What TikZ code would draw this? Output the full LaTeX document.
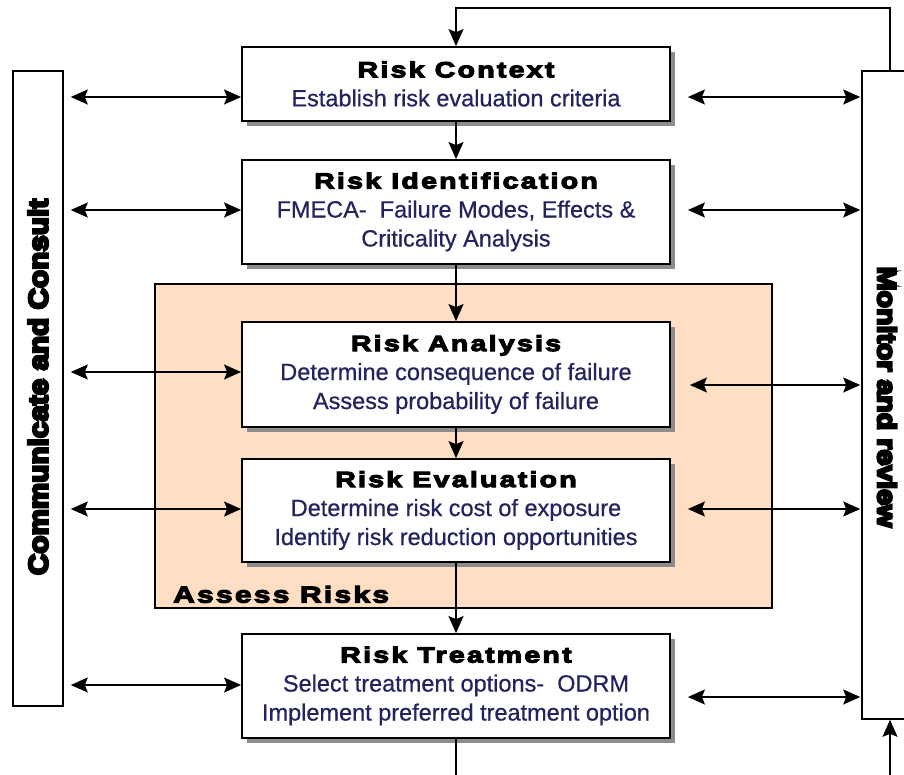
\documentclass[tikz,border=0pt]{standalone}
\usepackage{fontspec}
\usetikzlibrary{arrows.meta,shadows}

% Fonts: a wide heavy face for headings, a very heavy face for side labels
\newfontfamily\titlefont[FakeBold=5,FakeStretch=1.3,LetterSpace=10]{Liberation Sans Bold}
\newfontfamily\heavyfont[FakeBold=9,FakeStretch=1.1]{Liberation Sans Bold}
\newfontfamily\bodyfont[FakeBold=0.6]{Liberation Sans}

\definecolor{bodyblue}{RGB}{35,35,95}
\definecolor{peach}{RGB}{255,223,196}
\definecolor{shadowgray}{RGB}{140,140,140}

\newcommand\boxtitle[1]{{\titlefont\fontsize{22}{29}\selectfont\color{black}#1}}

\tikzset{
  stepbox/.style={draw=black, line width=1.8pt, fill=white,
    minimum width=428pt, align=center, inner sep=0pt,
    font=\bodyfont\fontsize{23.5}{29}\selectfont, text=bodyblue,
    drop shadow={shadow xshift=5pt, shadow yshift=-5pt, fill=shadowgray, opacity=1}},
  sidebox/.style={draw=black, line width=1.6pt, fill=white, inner sep=0pt, minimum width=50pt},
  sidetext/.style={font=\heavyfont\fontsize{27}{30}\selectfont, inner sep=0pt},
  link/.style={line width=1.5pt, -{Stealth[length=17pt,width=15pt,inset=3pt]}},
  plain/.style={line width=1.5pt},
  both/.style={line width=1.5pt, {Stealth[length=17pt,width=15pt,inset=3pt]}-{Stealth[length=17pt,width=15pt,inset=3pt]}},
}

\begin{document}
\begin{tikzpicture}[x=1pt,y=-1pt]
\useasboundingbox (0,0) rectangle (904,775);
\clip (0,0) rectangle (904,775);

% assessment zone
\node[draw=black, line width=1.5pt, fill=peach, inner sep=0pt,
      minimum width=617pt, minimum height=324pt] (assess) at (463.5,446) {};
\node[font=\titlefont\fontsize{23}{26}\selectfont, anchor=south west, inner sep=0pt]
      (assesslabel) at (173,603) {Assess Risks};

% side bars
\node[sidebox, minimum height=635pt] (comm) at (38,388.5) {};
\node[sidetext, rotate=90] (commtext) at (38,387) {Communicate and Consult};
\node[sidebox, minimum height=648pt] (mon) at (887,395) {};
\node[sidetext, rotate=-90, font=\heavyfont\fontsize{26}{30}\selectfont] (montext) at (887,397) {Monitor and review};

% process steps
\node[stepbox, minimum height=74pt] (ctx) at (456,84)
  {\boxtitle{Risk Context}\\Establish risk evaluation criteria};
\node[stepbox, minimum height=104pt] (ident) at (456,212)
  {\boxtitle{Risk Identification}\\FMECA-\ \ Failure Modes, Effects \&\\Criticality Analysis};
\node[stepbox, minimum height=105pt] (anal) at (456,374.5)
  {\boxtitle{Risk Analysis}\\Determine consequence of failure\\Assess probability of failure};
\node[stepbox, minimum height=103pt] (eval) at (456,510.5)
  {\boxtitle{Risk Evaluation}\\Determine risk cost of exposure\\Identify risk reduction opportunities};
\node[stepbox, minimum height=104pt] (trt) at (456,686)
  {\boxtitle{Risk Treatment}\\Select treatment options-\ \ ODRM\\Implement preferred treatment option};

% main flow
\draw[link] (ctx.south) -- (ident.north);
\draw[link] (ident.south) -- (anal.north);
\draw[link] (anal.south) -- (eval.north);
\draw[link] (eval.south) -- (trt.north);

% feedback loop
\coordinate (loopR) at (890,8);
\coordinate (loopL) at (456,8);
\coordinate (downL) at (456,800);
\coordinate (downR) at (890,800);
\draw[link] (mon.north -| loopR) -- (loopR) -- (loopL) -- (ctx.north);
\draw[plain] (trt.south) -- (downL);
\draw[link] (downR) -- (mon.south -| downR);

% communication links
\coordinate (r1) at (0,97);
\coordinate (r2) at (0,210);
\coordinate (r3) at (0,372);
\coordinate (r3b) at (0,385);
\coordinate (r4) at (0,509);
\coordinate (r5) at (0,685);
\coordinate (r5b) at (0,697);
\draw[both, shorten <=7pt] (comm.east |- r1) -- (ctx.west |- r1);
\draw[both, shorten <=7pt] (comm.east |- r2) -- (ident.west |- r2);
\draw[both, shorten <=7pt] (comm.east |- r3) -- (anal.west |- r3);
\draw[both, shorten <=7pt] (comm.east |- r4) -- (eval.west |- r4);
\draw[both, shorten <=7pt] (comm.east |- r5) -- (trt.west |- r5);

% monitoring links
\draw[both, shorten <=17pt, shorten >=1pt] (ctx.east |- r1) -- (mon.west |- r1);
\draw[both, shorten <=17pt, shorten >=1pt] (ident.east |- r2) -- (mon.west |- r2);
\draw[both, shorten <=19pt, shorten >=1pt] (anal.east |- r3b) -- (mon.west |- r3b);
\draw[both, shorten <=17pt, shorten >=1pt] (eval.east |- r4) -- (mon.west |- r4);
\draw[both, shorten <=17pt, shorten >=1pt] (trt.east |- r5b) -- (mon.west |- r5b);
\end{tikzpicture}
\end{document}
